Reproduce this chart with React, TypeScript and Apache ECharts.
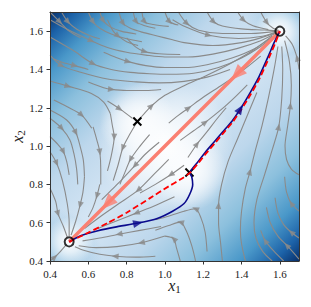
import React, { useEffect, useRef } from "react";
import * as echarts from "echarts";

// ---------- data ----------
const xRange = [0.4, 1.7];
const yRange = [0.4, 1.7];
const tickValues = [0.4, 0.6, 0.8, 1.0, 1.2, 1.4, 1.6];

// streamlines (points listed in flow direction)
const streamlines: number[][][] = [
  [[0.40,1.70],[0.451,1.649],[0.50,1.60],[0.56,1.565]],
  [[0.46,1.70],[0.494,1.649],[0.54,1.61],[0.60,1.58],[0.66,1.56]],
  [[0.60,1.70],[0.625,1.649],[0.66,1.615],[0.72,1.585],[0.80,1.56],[0.88,1.545]],
  [[0.66,1.70],[0.678,1.655],[0.71,1.625],[0.77,1.60],[0.85,1.585]],
  [[0.76,1.70],[0.782,1.641],[0.82,1.615],[0.88,1.595],[0.96,1.575],[1.04,1.555],[1.10,1.54],[1.25,1.525],[1.40,1.54],[1.50,1.565],[1.585,1.595]],
  [[0.835,1.70],[0.851,1.649],[0.89,1.63],[0.95,1.615]],
  [[0.88,1.70],[0.895,1.649],[0.94,1.635],[1.02,1.625]],
  [[1.00,1.70],[1.025,1.649],[1.07,1.632]],
  [[1.07,1.70],[1.115,1.64],[1.176,1.605],[1.30,1.588],[1.45,1.588],[1.59,1.60]],
  [[1.22,1.70],[1.255,1.649],[1.30,1.627],[1.40,1.612],[1.52,1.606],[1.59,1.602]],
  [[1.38,1.70],[1.411,1.658],[1.46,1.628],[1.54,1.608]],
  [[1.50,1.70],[1.533,1.644],[1.565,1.615],[1.595,1.603]],
  [[1.04,1.66],[1.107,1.623],[1.228,1.579],[1.385,1.562],[1.50,1.572],[1.585,1.597]],
  [[0.40,1.66],[0.49,1.61],[0.616,1.55],[0.70,1.515],[0.80,1.49],[0.90,1.475],[1.00,1.465],[1.12,1.465],[1.25,1.48],[1.38,1.51],[1.50,1.55],[1.58,1.59]],
  [[0.70,1.66],[0.73,1.60],[0.755,1.575],[0.80,1.545],[0.86,1.525]],
  [[0.80,1.565],[0.85,1.515],[0.895,1.493],[0.97,1.482],[1.08,1.478]],
  [[0.68,1.49],[0.74,1.465],[0.808,1.441],[0.90,1.42],[1.00,1.41],[1.10,1.41],[1.22,1.425],[1.35,1.46],[1.47,1.51],[1.56,1.57]],
  [[0.40,1.475],[0.46,1.42],[0.56,1.385],[0.70,1.35],[0.85,1.335],[0.97,1.33],[1.10,1.338],[1.22,1.36],[1.34,1.40]],
  [[0.40,1.57],[0.52,1.50],[0.625,1.43],[0.72,1.40],[0.82,1.385],[0.921,1.378],[1.02,1.375],[1.15,1.38],[1.28,1.41],[1.40,1.46],[1.50,1.52],[1.57,1.575]],
  [[0.42,1.455],[0.48,1.432],[0.529,1.42],[0.60,1.40]],
  [[0.60,1.335],[0.68,1.305],[0.721,1.296],[0.80,1.29],[0.90,1.29],[0.98,1.295]],
  [[0.40,1.34],[0.494,1.313],[0.616,1.275],[0.68,1.23],[0.715,1.17]],
  [[0.715,1.17],[0.725,1.11],[0.735,1.047],[0.72,0.95],[0.70,0.87]],
  [[0.42,1.24],[0.49,1.205],[0.565,1.162],[0.618,1.093]],
  [[0.625,1.10],[0.645,1.03],[0.66,0.969],[0.665,0.88],[0.665,0.80]],
  [[0.40,1.188],[0.487,1.136],[0.535,1.07],[0.557,1.0],[0.574,0.927],[0.58,0.84]],
  [[0.40,1.145],[0.461,1.093],[0.504,1.032],[0.525,0.96],[0.539,0.88],[0.545,0.80]],
  [[0.40,1.05],[0.44,1.01],[0.47,0.971],[0.487,0.92],[0.50,0.85]],
  [[0.40,0.97],[0.435,0.91],[0.465,0.82],[0.49,0.70],[0.50,0.60],[0.50,0.53]],
  [[0.40,0.78],[0.43,0.71],[0.442,0.647],[0.47,0.58],[0.49,0.525]],
  [[0.58,0.84],[0.572,0.76],[0.557,0.692],[0.535,0.61],[0.51,0.535]],
  [[0.66,0.80],[0.645,0.74],[0.625,0.68],[0.60,0.63]],
  [[0.40,0.40],[0.425,0.42],[0.455,0.45],[0.485,0.485]],
  [[0.98,0.58],[0.87,0.56],[0.76,0.54],[0.66,0.52],[0.57,0.505]],
  [[1.00,0.53],[0.877,0.495],[0.75,0.475],[0.64,0.47],[0.55,0.48]],
  [[0.95,0.425],[0.85,0.42],[0.74,0.425],[0.66,0.435],[0.58,0.455],[0.53,0.475]],
  [[1.22,0.45],[1.21,0.55],[1.19,0.62],[1.159,0.673],[1.10,0.66],[1.00,0.628],[0.95,0.615]],
  [[1.16,0.40],[1.14,0.48],[1.11,0.56],[1.081,0.603],[1.02,0.585],[0.95,0.56]],
  [[1.08,0.40],[1.06,0.47],[1.046,0.516],[1.00,0.53]],
  [[1.30,0.40],[1.29,0.50],[1.28,0.60],[1.28,0.69],[1.296,0.80],[1.33,0.92],[1.38,1.04],[1.43,1.16],[1.48,1.28]],
  [[1.42,0.40],[1.40,0.49],[1.394,0.56],[1.40,0.66],[1.42,0.78],[1.444,0.866],[1.47,0.97],[1.507,1.107],[1.54,1.25],[1.57,1.40],[1.59,1.52]],
  [[1.56,0.40],[1.51,0.45],[1.475,0.52],[1.465,0.60],[1.48,0.72],[1.52,0.85],[1.56,0.98],[1.594,1.10],[1.61,1.25],[1.615,1.40],[1.61,1.52]],
  [[1.70,0.85],[1.66,0.88],[1.635,0.93],[1.627,1.00],[1.64,1.10],[1.655,1.211],[1.66,1.32],[1.65,1.44],[1.625,1.55]],
  [[1.70,1.40],[1.69,1.46],[1.665,1.53],[1.63,1.575]],
  [[1.70,0.41],[1.637,0.481],[1.59,0.53],[1.55,0.60],[1.53,0.68]],
  [[1.70,0.52],[1.66,0.55],[1.62,0.59],[1.59,0.65],[1.575,0.73]],
  [[1.62,0.40],[1.57,0.45],[1.524,0.505],[1.50,0.56]],
  [[1.70,0.66],[1.66,0.70],[1.635,0.76],[1.625,0.84]],
  [[1.02,0.93],[0.95,0.86],[0.86,0.77],[0.76,0.70],[0.66,0.63],[0.58,0.57]],
  [[1.10,0.90],[1.03,0.85],[0.95,0.80],[0.87,0.755]],
  [[1.05,0.735],[0.95,0.69],[0.85,0.65],[0.75,0.61],[0.65,0.57]],
  [[0.97,1.02],[0.90,0.96],[0.843,0.898],[0.78,0.83],[0.72,0.77],[0.67,0.72]],
  [[0.856,1.128],[0.81,1.05],[0.78,0.99],[0.755,0.90],[0.73,0.82]],
  [[0.92,1.06],[0.87,1.00],[0.82,0.93],[0.79,0.86],[0.765,0.80]],
  [[0.856,1.128],[0.93,1.21],[1.0,1.265],[1.10,1.315],[1.22,1.37],[1.34,1.43],[1.46,1.50],[1.56,1.575]],
  [[1.02,1.12],[1.07,1.16],[1.124,1.199],[1.20,1.255],[1.30,1.32],[1.40,1.39],[1.50,1.47]],
  [[1.08,1.03],[1.15,1.08],[1.211,1.124],[1.298,1.194],[1.37,1.26],[1.43,1.32]],
  [[1.12,0.94],[1.168,1.011],[1.22,1.075],[1.27,1.14],[1.32,1.20]],
  [[0.70,1.235],[0.764,1.194],[0.83,1.145]],
];
// index of the point on each streamline that carries its arrow head
const arrowIdx: number[] = [
  1,1,1,1,1,1,1,1,1,1,1,1,2,2,2,2,2,1,2,2,2,1,2,2,2,2,1,2,1,2,2,1,1,2,1,2,3,3,2,3,5,7,5,1,1,1,2,1,2,1,2,2,2,2,1,2,2,1,1,
];

const orangePath = [[1.6, 1.6], [0.5, 0.5]];
const orangeArrowPts = [[1.375, 1.375], [0.70, 0.70]];

const navyPath = [
  [0.50,0.50],[0.56,0.532],[0.65,0.558],[0.74,0.577],[0.86,0.598],[0.96,0.622],[1.04,0.66],[1.10,0.70],
  [1.13,0.75],[1.145,0.80],[1.14,0.84],[1.13,0.86],[1.17,0.915],[1.21,0.967],[1.26,1.025],[1.30,1.072],
  [1.35,1.13],[1.394,1.194],[1.44,1.27],[1.49,1.36],[1.54,1.47],[1.57,1.54],[1.60,1.60],
];
const navyArrowIdx = [4, 17];

const mepPath = [
  [0.50,0.50],[0.60,0.548],[0.70,0.598],[0.80,0.652],[0.92,0.727],[1.02,0.79],[1.08,0.825],[1.13,0.86],
  [1.175,0.912],[1.215,0.962],[1.265,1.02],[1.305,1.068],[1.355,1.127],[1.398,1.19],[1.445,1.265],
  [1.495,1.355],[1.545,1.465],[1.575,1.535],[1.60,1.60],
];

const minima = [[0.5, 0.5], [1.6, 1.6]];
const saddles = [[0.856, 1.128], [1.128, 0.862]];
const maximum = [1.0, 1.0];
const diagonalCorners = [[0.4, 0.4], [1.7, 1.7]];

// ---------- styles ----------
const FONT = "Liberation Serif";
const GRAY = "#8a8a8a";
const SALMON = "#fa8072";
const NAVY = "#0a0a8c";
const SPINE = "#333";

const bgStops = [
  { offset: 0, color: "#08306b" },
  { offset: 0.05, color: "#1c62a8" },
  { offset: 0.12, color: "#4a98c9" },
  { offset: 0.22, color: "#8cc0dd" },
  { offset: 0.34, color: "#bdd7ec" },
  { offset: 0.5, color: "#d6e6f4" },
  { offset: 0.66, color: "#bdd7ec" },
  { offset: 0.78, color: "#8cc0dd" },
  { offset: 0.88, color: "#4a98c9" },
  { offset: 0.95, color: "#1c62a8" },
  { offset: 1, color: "#08306b" },
];

function glowFill(rgb: string, alpha: number) {
  return {
    type: "radial", x: 0.5, y: 0.5, r: 0.5,
    colorStops: [
      { offset: 0, color: `rgba(${rgb},${alpha})` },
      { offset: 0.45, color: `rgba(${rgb},${alpha * 0.65})` },
      { offset: 1, color: `rgba(${rgb},0)` },
    ],
  };
}

function angleAt(pts: number[][], k: number) {
  const a = pts[Math.max(0, k - 1)];
  const b = pts[Math.min(pts.length - 1, k + 1)];
  return (Math.atan2(b[1] - a[1], b[0] - a[0]) * 180) / Math.PI;
}

export default function App() {
  const ref = useRef<HTMLDivElement>(null);
  useEffect(() => {
    const chart = echarts.init(ref.current!, null, { renderer: "svg" });

    const streamSeries = streamlines.map((pts) => ({
      type: "line", data: pts, symbol: "none", showSymbol: false, smooth: 0.3,
      lineStyle: { color: GRAY, width: 1.1 }, silent: true, z: 3,
    }));
    const streamArrows = streamlines.map((pts, i) => ({
      value: pts[arrowIdx[i]], symbolRotate: angleAt(pts, arrowIdx[i]) - 90,
    }));
    const navyArrows = navyArrowIdx.map((k) => ({
      value: navyPath[k], symbolRotate: angleAt(navyPath, k) - 90,
    }));
    const orangeAngle = angleAt(orangePath, 0);
    const orangeArrows = orangeArrowPts.map((p) => ({ value: p, symbolRotate: orangeAngle - 90 }));

    const axisName = (n: string) => ({
      name: `{x|x}{s|${n}}`,
      nameLocation: "middle",
      nameMoveOverlap: false,
      nameTextStyle: {
        rich: {
          x: { fontFamily: FONT, fontStyle: "italic", fontSize: 16, color: "#222", lineHeight: 16 },
          s: { fontFamily: FONT, fontSize: 11, color: "#222", lineHeight: 11, padding: [7, 0, 0, 0] },
        },
      },
    });
    const mainAxis = (n: string, pos: string, gap: number) => ({
      type: "value", min: xRange[0], max: xRange[1], interval: 0.2, position: pos, z: 10,
      axisLine: { show: true, onZero: false, lineStyle: { color: SPINE, width: 1 } },
      axisTick: { show: true, length: 3.5, customValues: tickValues, lineStyle: { color: SPINE, width: 1 } },
      axisLabel: { customValues: tickValues, formatter: (v: number) => v.toFixed(1), margin: 7,
        fontFamily: FONT, fontSize: 11, color: "#222" },
      splitLine: { show: false },
      nameGap: gap,
      ...axisName(n),
    });
    const sideAxis = (pos: string) => ({
      type: "value", min: yRange[0], max: yRange[1], position: pos, z: 10,
      axisLine: { show: true, onZero: false, lineStyle: { color: SPINE, width: 1 } },
      axisTick: { show: false }, axisLabel: { show: false }, splitLine: { show: false },
    });

    const option: any = {
      animation: false,
      grid: { left: 50, top: 12, width: 249, height: 249, containLabel: false, outerBoundsMode: "none" },
      xAxis: [mainAxis("1", "bottom", 16), sideAxis("top")],
      yAxis: [{ ...mainAxis("2", "left", 25), min: yRange[0], max: yRange[1] }, sideAxis("right")],
      series: [
        {
          type: "custom", z: 1, silent: true, clip: true, data: [[maximum[0], maximum[1]]],
          renderItem: (_p: any, api: any) => {
            const tl = api.coord([xRange[0], yRange[1]]);
            const br = api.coord([xRange[1], yRange[0]]);
            const w = br[0] - tl[0];
            const h = br[1] - tl[1];
            const s = w / (xRange[1] - xRange[0]);
            const children: any[] = [
              { type: "rect", shape: { x: tl[0], y: tl[1], width: w, height: h },
                style: { fill: { type: "linear", x: 0, y: 0, x2: 1, y2: 1, colorStops: bgStops } } },
            ];
            diagonalCorners.forEach((m) => {
              const p = api.coord(m);
              children.push({ type: "circle", shape: { cx: p[0], cy: p[1], r: 0.28 * s }, style: { fill: glowFill("107,174,214", 0.55) } });
            });
            const c = api.coord(maximum);
            children.push({ type: "circle", shape: { cx: c[0], cy: c[1], r: 0.36 * s }, style: { fill: glowFill("255,255,255", 1) } });
            minima.forEach((m) => {
              const p = api.coord(m);
              children.push({ type: "circle", shape: { cx: p[0], cy: p[1], r: 0.13 * s }, style: { fill: glowFill("255,255,255", 1) } });
            });
            saddles.forEach((m) => {
              const p = api.coord(m);
              children.push({ type: "circle", shape: { cx: p[0], cy: p[1], r: 0.2 * s }, style: { fill: glowFill("255,255,255", 0.9) } });
            });
            return { type: "group", children };
          },
        },
        ...streamSeries,
        {
          type: "scatter", data: streamArrows, symbol: "triangle", symbolSize: [6, 7], z: 3, silent: true,
          itemStyle: { color: GRAY },
        },
        {
          type: "line", data: orangePath, symbol: "none", z: 4, silent: true,
          lineStyle: { color: SALMON, width: 3.5 },
        },
        {
          type: "scatter", data: orangeArrows, symbol: "triangle", symbolSize: [13, 16], z: 4, silent: true,
          itemStyle: { color: SALMON },
        },
        {
          type: "custom", z: 5, silent: true, data: saddles,
          renderItem: (_p: any, api: any) => {
            const p = api.coord([api.value(0), api.value(1)]);
            const d = 4;
            const st = { stroke: "#000", lineWidth: 2 };
            return { type: "group", children: [
              { type: "line", shape: { x1: p[0] - d, y1: p[1] - d, x2: p[0] + d, y2: p[1] + d }, style: st },
              { type: "line", shape: { x1: p[0] - d, y1: p[1] + d, x2: p[0] + d, y2: p[1] - d }, style: st },
            ] };
          },
        },
        {
          type: "line", data: navyPath, symbol: "none", smooth: 0.2, z: 6, silent: true,
          lineStyle: { color: NAVY, width: 1.6 },
        },
        {
          type: "scatter", data: navyArrows, symbol: "triangle", symbolSize: [8, 10], z: 6, silent: true,
          itemStyle: { color: NAVY },
        },
        {
          type: "line", data: mepPath, symbol: "none", smooth: 0.2, z: 6, silent: true,
          lineStyle: { color: "#ff0000", width: 1.8, type: [6, 3] },
        },
        {
          type: "scatter", data: minima, symbol: "circle", symbolSize: 9, z: 7, silent: true,
          itemStyle: { color: "rgba(0,0,0,0)", borderColor: "#000", borderWidth: 2 },
        },
      ],
    };
    chart.setOption(option);
    return () => chart.dispose();
  }, []);
  return <div ref={ref} style={{ position: "absolute", left: 0, top: 0, width: 311, height: 307 }} />;
}
